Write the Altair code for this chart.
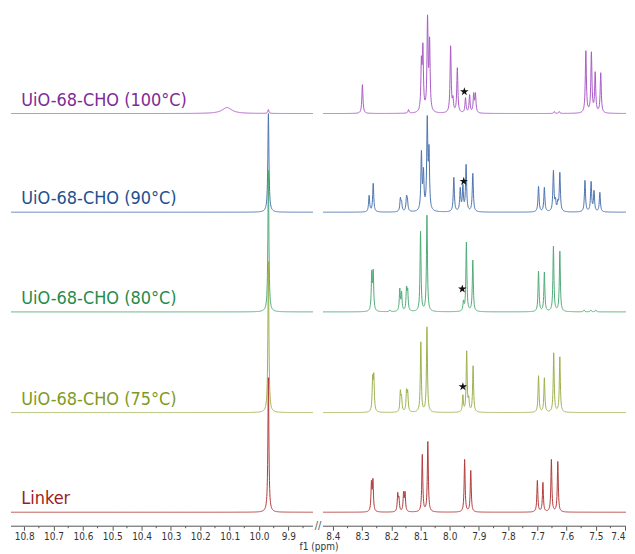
import numpy as np
import pandas as pd
import altair as alt

FONT = "Tahoma, 'DejaVu Sans Condensed', 'Noto Sans', sans-serif"

# ---- spectra, bottom -> top ----
names = ["Linker", "UiO-68-CHO (75°C)", "UiO-68-CHO (80°C)", "UiO-68-CHO (90°C)", "UiO-68-CHO (100°C)"]
text_colors = ["#9e1b1b", "#7f9a1f", "#1f8c4b", "#22508f", "#7e2a97"]
line_colors = ["#b23b3b", "#9db24f", "#4fab77", "#4d74b0", "#aa5cc6"]
offsets = [14, 114, 215, 315, 414]
hwhm = [0.0020, 0.0020, 0.0020, 0.0022, 0.0022]

linker_ppm = [9.968, 8.268, 8.263, 8.178, 8.174, 8.158, 8.153, 8.094, 8.075, 7.949, 7.928, 7.700, 7.681, 7.652, 7.630]
linker_hgt = [135, 32, 34, 20, 16, 21, 21, 58, 71, 53, 42, 32, 30, 53, 51]

c75_ppm = [9.968, 8.264, 8.260, 8.169, 8.165, 8.148, 8.144, 8.099, 8.078, 7.955, 7.942, 7.935, 7.920, 7.696, 7.676, 7.644, 7.623]
c75_hgt = [152, 38, 40, 23, 18, 24, 23, 71, 86, 18, 62, 17, 47, 37, 35, 60, 56]

c80_ppm = [9.968, 8.267, 8.262, 8.205, 8.171, 8.165, 8.148, 8.144, 8.100, 8.078, 7.953, 7.943, 7.921, 7.696, 7.676, 7.645, 7.623, 7.540, 7.517, 7.500]
c80_hgt = [142, 42, 43, 2, 24, 21, 26, 24, 81, 97, 12, 70, 52, 41, 40, 66, 61, 2, 2, 2]

c90_ppm = [9.968, 8.276, 8.262, 8.169, 8.165, 8.148, 8.145, 8.097, 8.090, 8.077, 8.071, 7.986, 7.964, 7.955, 7.944, 7.921, 7.696, 7.676, 7.645, 7.638, 7.630, 7.623, 7.537, 7.516, 7.506, 7.486]
c90_hgt = [99, 17, 29, 15, 12, 17, 15, 62, 45, 97, 68, 35, 25, 28, 48, 39, 26, 25, 42, 15, 13, 40, 32, 31, 22, 20]

c100_ppm = [9.968, 8.299, 8.141, 8.097, 8.092, 8.076, 8.069, 7.997, 7.989, 7.974, 7.946, 7.932, 7.918, 7.912, 7.642, 7.625, 7.534, 7.515, 7.502, 7.483]
c100_hgt = [4, 29, 4, 58, 71, 99, 77, 68, 18, 46, 16, 19, 21, 21, 2, 2, 63, 62, 42, 41]

# broad signal (only in the 100 °C sample)
broad_ppm = [[], [], [], [], [10.109]]
broad_hgt = [[], [], [], [], [6]]
broad_w = [[], [], [], [], [0.02]]

peak_ppm = [linker_ppm, c75_ppm, c80_ppm, c90_ppm, c100_ppm]
peak_hgt = [linker_hgt, c75_hgt, c80_hgt, c90_hgt, c100_hgt]

# stars (ppm, height above baseline)
star_ppm = [None, 7.955, 7.957, 7.952, 7.950]
star_dy = [None, 26, 23, 31, 22]

# axis
segments = [(10.845, 9.816), (8.434, 7.3965)]
major = [10.8, 10.7, 10.6, 10.5, 10.4, 10.3, 10.2, 10.1, 10.0, 9.9,
         8.4, 8.3, 8.2, 8.1, 8.0, 7.9, 7.8, 7.7, 7.6, 7.5, 7.4]
minor = [10.75, 10.65, 10.55, 10.45, 10.35, 10.25, 10.15, 10.05, 9.95, 9.85,
         8.35, 8.25, 8.15, 8.05, 7.95, 7.85, 7.75, 7.65, 7.55, 7.45]

W, H = 617, 519
xscale = alt.Scale(domain=[10.845, 9.816, 8.434, 7.3965], range=[0, 303, 313, 617], nice=False, zero=False)
xaxis = alt.Axis(values=major, format=".1f", tickSize=4, tickColor="#555", domain=False, grid=False,
                 labelFontSize=10, labelColor="#333", labelFont=FONT, labelPadding=1,
                 titleFontSize=10, titleFont=FONT, titleFontWeight="normal", titleColor="#333",
                 titlePadding=0, labelFlush=4, labelOverlap=False)
xdef = alt.X("ppm:Q", scale=xscale, axis=xaxis, title="f1 (ppm)")
ydef = alt.Y("y:Q", scale=alt.Scale(domain=[0, H], nice=False, zero=False), axis=None)


def spectrum(i):
    pos = np.array(peak_ppm[i] + broad_ppm[i], float)
    obs = np.array(peak_hgt[i] + broad_hgt[i], float)
    wid = np.array([hwhm[i]] * len(peak_ppm[i]) + broad_w[i], float)
    L = 1.0 / (1.0 + ((pos[:, None] - pos[None, :]) / wid[None, :]) ** 2)
    amp = obs.copy()
    for _ in range(300):
        amp *= obs / (L @ amp)
    rows = []
    for s, (a, b) in enumerate(segments):
        grid = np.arange(b, a, 0.0007)
        extra = pos[(pos > b) & (pos < a)]
        grid = np.unique(np.concatenate([grid, extra, [a, b]]))
        yv = (amp[None, :] / (1.0 + ((grid[:, None] - pos[None, :]) / wid[None, :]) ** 2)).sum(axis=1)
        for g, v in zip(grid, yv):
            rows.append((round(float(g), 5), round(float(v) + offsets[i], 3), s))
    return pd.DataFrame(rows, columns=["ppm", "y", "seg"])


layers = []
for i in [4, 3, 2, 1, 0]:
    df = spectrum(i)
    layers.append(alt.Chart(df).mark_line(strokeWidth=1, color=line_colors[i], clip=True).encode(
        x=xdef, y=ydef, detail="seg:N", order="ppm:Q"))

labels = pd.DataFrame({"ppm": [10.81] * 5, "y": [o + 8 for o in offsets], "label": names})
for i in range(5):
    layers.append(alt.Chart(labels.iloc[[i]]).mark_text(
        align="left", baseline="alphabetic", font=FONT, fontSize=18, color=text_colors[i]).encode(
        x=xdef, y=ydef, text="label:N"))

STAR = "M0,-1L0.2245,-0.309L0.951,-0.309L0.363,0.118L0.588,0.809L0,0.382L-0.588,0.809L-0.363,0.118L-0.951,-0.309L-0.2245,-0.309Z"
stars = pd.DataFrame({"ppm": [p for p in star_ppm if p is not None],
                      "y": [offsets[i] + star_dy[i] for i in range(5) if star_ppm[i] is not None]})
layers.append(alt.Chart(stars).mark_point(shape=STAR, filled=True, color="#111", size=80, opacity=1).encode(
    x=xdef, y=ydef))

axis_df = pd.DataFrame({"ppm": [s[0] for s in segments], "ppm2": [s[1] for s in segments]})
layers.append(alt.Chart(axis_df).mark_rule(color="#555", strokeWidth=1).encode(
    x=xdef, x2="ppm2:Q", y=alt.value(H)))

minor_df = pd.DataFrame({"ppm": minor})
layers.append(alt.Chart(minor_df).mark_rule(color="#555", strokeWidth=1).encode(
    x=xdef, y=alt.value(H), y2=alt.value(H + 2)))

brk = pd.DataFrame({"ppm": [(segments[0][1] + segments[1][0]) / 2], "t": ["//"]})
layers.append(alt.Chart(brk).mark_text(fontSize=11, color="#555", baseline="middle", font=FONT).encode(
    x=xdef, y=alt.value(H), text="t:N"))

chart = alt.layer(*layers).properties(
    width=W, height=H, padding={"left": 2, "top": 0, "right": 0, "bottom": 0}
).configure(background="white", view=alt.ViewConfig(strokeWidth=0, stroke=None))

chart.save("out.html", embed_options={"renderer": "svg", "actions": False})
